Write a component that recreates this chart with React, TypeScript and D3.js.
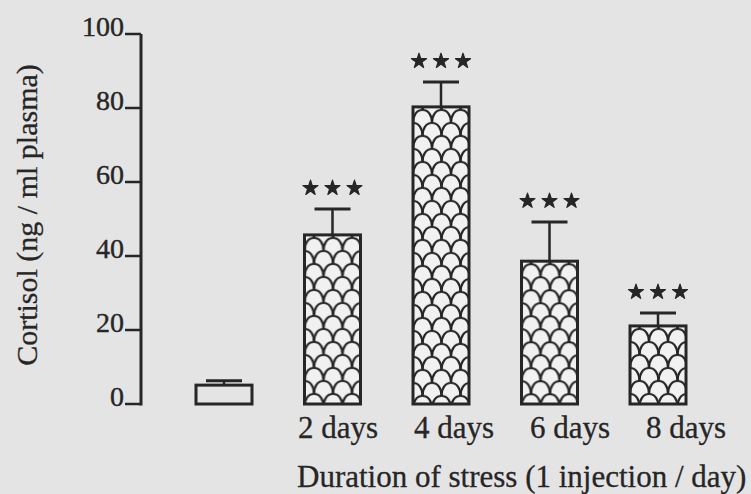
import React from "react";
import * as d3 from "d3";

const categories = ["Control", "2 days", "4 days", "6 days", "8 days"];
const meanValues = [5.1, 45.7, 80.3, 38.6, 21.1];
const errorValues = [1.2, 7.0, 6.7, 10.6, 3.5];
const significance = ["", "***", "***", "***", "***"];
const patterned = [false, true, true, true, true];
const xTickLabels = ["2 days", "4 days", "6 days", "8 days"];
const yTicks = [0, 20, 40, 60, 80, 100];
const xTitle = "Duration of stress (1 injection / day)";
const yTitle = "Cortisol (ng / ml plasma)";

const W = 751;
const H = 494;
const INK = "#262626";
const BG = "#e4e4e4";
const FONT = "'Liberation Serif', 'Times New Roman', serif";

export default function App() {
  const y = d3.scaleLinear().domain([0, 100]).range([404, 34]);
  const x = d3.scaleBand<string>().domain(categories).range([196, 686]).paddingInner(0.484).paddingOuter(0);
  const xl = d3.scalePoint<string>().domain(xTickLabels).range([338, 686]);
  const star = d3.symbol().type(d3.symbolStar).size(70)();
  const sw = 19;
  const sh = 13;
  const scalePath = `M0,${sh} C0,${sh * 0.4} ${sw * 0.2},0 ${sw / 2},0 C${sw * 0.8},0 ${sw},${sh * 0.4} ${sw},${sh}`;

  return (
    <svg width={W} height={H} style={{ position: "absolute", left: 0, top: 0 }} fontFamily={FONT}>
      <defs>
        {categories.map((c, i) => (
          <pattern
            key={c}
            id={`scales-${i}`}
            patternUnits="userSpaceOnUse"
            x={x(c)!}
            y={y(meanValues[i]) + 3}
            width={sw}
            height={sh * 2}
          >
            <rect width={sw} height={sh * 2} fill="#f1f1f1" />
            <g fill="none" stroke={INK} strokeWidth={2.2}>
              <path d={scalePath} />
              <path d={scalePath} transform={`translate(${-sw / 2},${sh})`} />
              <path d={scalePath} transform={`translate(${sw / 2},${sh})`} />
              <path d={scalePath} transform={`translate(0,${2 * sh})`} />
              <path d={scalePath} transform={`translate(0,${-sh})`} />
              <path d={scalePath} transform={`translate(${-sw / 2},${-sh})`} />
              <path d={scalePath} transform={`translate(${sw / 2},${-sh})`} />
            </g>
          </pattern>
        ))}
      </defs>
      <rect width={W} height={H} fill={BG} />

      {/* y axis */}
      <line x1={141} x2={141} y1={y(100)} y2={y(0) + 1.5} stroke={INK} strokeWidth={3} />
      {yTicks.map((t) => (
        <g key={t}>
          <line x1={125} x2={141} y1={y(t)} y2={y(t)} stroke={INK} strokeWidth={2.5} />
          <text x={124} y={y(t) + 2} textAnchor="end" fontSize={28} fill={INK} stroke={INK} strokeWidth={0.4}>
            {t}
          </text>
        </g>
      ))}

      {/* bars */}
      {categories.map((c, i) => {
        const bx = x(c)!;
        const bw = x.bandwidth();
        const top = y(meanValues[i]);
        const etop = y(meanValues[i] + errorValues[i]);
        const cx = bx + bw / 2;
        return (
          <g key={c}>
            <line x1={cx} x2={cx} y1={etop} y2={top} stroke={INK} strokeWidth={2.5} />
            <line x1={cx - 18} x2={cx + 18} y1={etop} y2={etop} stroke={INK} strokeWidth={3} />
            <rect
              x={bx}
              y={top}
              width={bw}
              height={y(0) - top}
              fill={patterned[i] ? `url(#scales-${i})` : "none"}
              stroke={INK}
              strokeWidth={3}
            />
            {significance[i] &&
              [-1, 0, 1].map((k) => (
                <path
                  key={k}
                  d={star}
                  transform={`translate(${cx + k * 22},${etop - 21})`}
                  fill={INK}
                  stroke={INK}
                  strokeWidth={1.2}
                  strokeLinejoin="round"
                />
              ))}
          </g>
        );
      })}

      {/* x labels */}
      {xTickLabels.map((l) => (
        <text key={l} x={xl(l)} y={438} textAnchor="middle" fontSize={31} fill={INK} stroke={INK} strokeWidth={0.3}>
          {l}
        </text>
      ))}
      <text x={297} y={487} fontSize={31} fill={INK} stroke={INK} strokeWidth={0.3}>
        {xTitle}
      </text>
      <text
        transform={`translate(37,215) rotate(-90)`}
        textAnchor="middle"
        fontSize={30}
        fill={INK}
        stroke={INK}
        strokeWidth={0.3}
      >
        {yTitle}
      </text>
    </svg>
  );
}
